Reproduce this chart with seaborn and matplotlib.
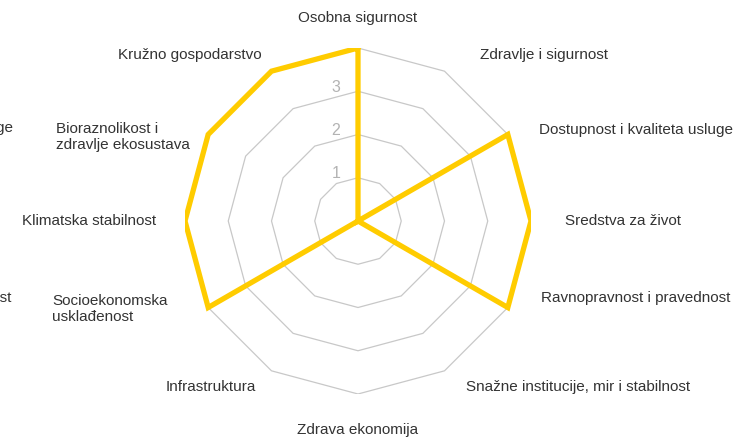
import numpy as np
import pandas as pd
import matplotlib
matplotlib.use("Agg")
import matplotlib.pyplot as plt
import seaborn as sns

# categories clockwise from the top
categories = [
    "Osobna sigurnost",
    "Zdravlje i sigurnost",
    "Dostupnost i kvaliteta usluge",
    "Sredstva za život",
    "Ravnopravnost i pravednost",
    "Snažne institucije, mir i stabilnost",
    "Zdrava ekonomija",
    "Infrastruktura",
    "Socioekonomska\nusklađenost",
    "Klimatska stabilnost",
    "Bioraznolikost i\nzdravlje ekosustava",
    "Kružno gospodarstvo",
]
scores = [4, 0, 4, 4, 4, 0, 0, 0, 4, 4, 4, 4]
ring_levels = [1, 2, 3, 4]
tick_labels = ["1", "2", "3"]

# clipped labels of the neighbouring chart at the left edge
left_fragments = ["Dostupnost i kvaliteta usluge", "Ravnopravnost i pravednost"]

sns.set_theme(style="white")
plt.rcParams["font.family"] = ["Liberation Sans", "DejaVu Sans"]

W, H, DPI = 738, 438, 100
fig = plt.figure(figsize=(W / DPI, H / DPI), dpi=DPI)
cx, cy, R = 358, 221, 173
ax = fig.add_axes([(cx - R) / W, (H - cy - R) / H, 2 * R / W, 2 * R / H])
ax.set_xlim(-4, 4)
ax.set_ylim(-4, 4)
ax.set_axis_off()

n = len(categories)
angles = np.arange(n) * 2 * np.pi / n
closed = np.append(angles, angles[0])
ux, uy = np.sin(closed), np.cos(closed)

# polygon grid
for lv in ring_levels:
    ax.plot(lv * ux, lv * uy, color="#c8c8c8", lw=0.9, zorder=1)

# tick labels along the top axis
for lv, t in zip(ring_levels, tick_labels):
    ax.annotate(t, (0, lv), xytext=(-22, 4), textcoords="offset pixels",
                ha="center", va="center", fontsize=11.5, color="#b3b3b3")

# score polygon
r = np.array(scores + [scores[0]], dtype=float)
df = pd.DataFrame({"x": r * ux, "y": r * uy, "step": np.arange(n + 1)})
sns.lineplot(data=df, x="x", y="y", sort=False, estimator=None, ax=ax,
             color="#FFCC00", lw=3.8, zorder=3, solid_joinstyle="miter")

# category labels: (ha, dx, dy) pixel nudges from a ring just outside the chart
label_r = 4 * 200 / R
nudges = [
    ("center", 0, 3), ("left", 22, -7), ("left", 8, -9), ("left", 7, 0),
    ("left", 10, 23), ("left", 8, 7), ("center", 0, -9), ("right", -2, 7),
    ("right", -17, 12), ("right", -2, 0), ("right", 5, -16), ("right", 4, -7),
]
for ang, lab, (ha, dx, dy) in zip(angles, categories, nudges):
    ax.annotate(lab, (label_r * np.sin(ang), label_r * np.cos(ang)),
                xytext=(dx, dy), textcoords="offset pixels",
                ha=ha, va="center", multialignment="left", fontsize=11,
                color="#333333", annotation_clip=False, linespacing=1.1)

fig.text(13 / W, 1 - 128 / H, left_fragments[0], ha="right", va="center",
         fontsize=11, color="#333333")
fig.text(11 / W, 1 - 298 / H, left_fragments[1], ha="right", va="center",
         fontsize=11, color="#333333")

fig.savefig("out.png", dpi=DPI)
